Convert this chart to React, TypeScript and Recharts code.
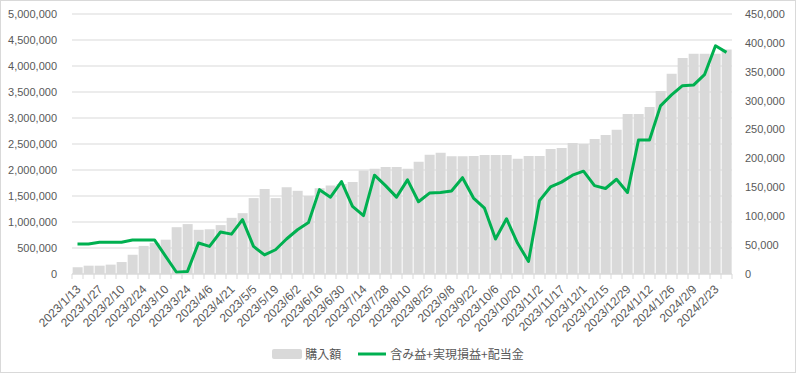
import {
  Bar,
  CartesianGrid,
  ComposedChart,
  Legend,
  Line,
  XAxis,
  YAxis,
} from "recharts";

const dates = [
  "2023/1/13", "2023/1/20", "2023/1/27", "2023/2/3", "2023/2/10", "2023/2/17",
  "2023/2/24", "2023/3/3", "2023/3/10", "2023/3/17", "2023/3/24", "2023/3/31",
  "2023/4/6", "2023/4/14", "2023/4/21", "2023/4/28", "2023/5/5", "2023/5/12",
  "2023/5/19", "2023/5/26", "2023/6/2", "2023/6/9", "2023/6/16", "2023/6/23",
  "2023/6/30", "2023/7/7", "2023/7/14", "2023/7/21", "2023/7/28", "2023/8/4",
  "2023/8/10", "2023/8/18", "2023/8/25", "2023/9/1", "2023/9/8", "2023/9/15",
  "2023/9/22", "2023/9/29", "2023/10/6", "2023/10/13", "2023/10/20", "2023/10/27",
  "2023/11/2", "2023/11/10", "2023/11/17", "2023/11/24", "2023/12/1", "2023/12/8",
  "2023/12/15", "2023/12/22", "2023/12/29", "2024/1/5", "2024/1/12", "2024/1/19",
  "2024/1/26", "2024/2/2", "2024/2/9", "2024/2/16", "2024/2/23", "2024/3/1",
];

// 購入額
const purchases = [
  130000, 160000, 160000, 180000, 230000, 370000, 540000, 600000, 660000, 900000,
  960000, 850000, 860000, 940000, 1080000, 1170000, 1460000, 1635000, 1460000, 1670000,
  1600000, 1500000, 1650000, 1700000, 1730000, 1770000, 1990000, 2025000, 2060000, 2060000,
  2025000, 2160000, 2295000, 2330000, 2265000, 2265000, 2270000, 2290000, 2290000, 2290000,
  2215000, 2270000, 2270000, 2405000, 2425000, 2520000, 2500000, 2595000, 2675000, 2775000,
  3075000, 3075000, 3210000, 3520000, 3850000, 4155000, 4235000, 4235000, 4235000, 4315000,
];

// 含み益+実現損益+配当金
const profits = [
  52000, 52000, 55000, 55000, 55000, 59000, 59000, 59000, 31000, 3000,
  4500, 53600, 47800, 72700, 69000, 94000, 47800, 33000, 42000, 60600,
  76600, 89000, 146000, 133000, 160000, 117000, 101000, 171000, 153000, 133000,
  163000, 125000, 140000, 141000, 143600, 166700, 131500, 114000, 60600, 95700,
  53600, 21800, 127000, 150600, 159000, 171000, 178000, 153000, 148000, 164000,
  141000, 232000, 232000, 291000, 310000, 326000, 327000, 345000, 395000, 383600,
];

const leftTicks = [0, 500000, 1000000, 1500000, 2000000, 2500000, 3000000, 3500000, 4000000, 4500000, 5000000];
const rightTicks = [0, 50000, 100000, 150000, 200000, 250000, 300000, 350000, 400000, 450000];

const data = dates.map((d, i) => ({ date: d, purchase: purchases[i], profit: profits[i] }));

const TEXT = "#595959";
const GRID = "#d9d9d9";
const FONT = "'Liberation Sans', Arial, sans-serif";

const fmt = (v: number) => v.toLocaleString("en-US");

function DateTick(props: any) {
  const { x, y, payload, index } = props;
  const off = payload?.offset ?? 5.5;
  const tx = x + 4;
  const ty = y + 16;
  return (
    <g>
      <line x1={x - off} x2={x - off} y1={y} y2={y + 5} stroke={GRID} />
      {index === dates.length - 1 && (
        <line x1={x + off} x2={x + off} y1={y} y2={y + 5} stroke={GRID} />
      )}
      {index % 2 === 0 && (
        <text
          x={tx}
          y={ty}
          transform={`rotate(-45, ${tx}, ${ty})`}
          textAnchor="end"
          fontSize={12}
          fontFamily={FONT}
          fill={TEXT}
        >
          {payload.value}
        </text>
      )}
    </g>
  );
}

function LegendContent() {
  return (
    <div
      style={{
        height: 25,
        display: "flex",
        justifyContent: "center",
        alignItems: "center",
        fontFamily: "'Noto Sans CJK JP', sans-serif",
        fontSize: 12,
        color: TEXT,
      }}
    >
      <svg width={30} height={10} style={{ marginRight: 3 }}>
        <rect x={0} y={0} width={30} height={10} rx={2} fill={GRID} />
      </svg>
      <span style={{ marginRight: 17 }}>購入額</span>
      <svg width={28} height={10} style={{ marginRight: 4 }}>
        <line x1={0} x2={28} y1={5} y2={5} stroke="#00b050" strokeWidth={3} />
      </svg>
      <span>含み益+実現損益+配当金</span>
    </div>
  );
}

export default function App() {
  return (
    <div style={{ position: "absolute", left: 0, top: 0, width: 796, height: 373, background: "#fff" }}>
      <ComposedChart
        width={796}
        height={373}
        data={data}
        margin={{ top: 14, right: 0, bottom: 7, left: 0 }}
        barCategoryGap="6%"
      >
        <CartesianGrid yAxisId="left" vertical={false} stroke={GRID} />
        <XAxis
          dataKey="date"
          interval={0}
          height={67}
          tickSize={0}
          tickMargin={0}
          tickLine={false}
          axisLine={{ stroke: GRID }}
          tick={<DateTick />}
        />
        <YAxis
          yAxisId="left"
          width={72}
          domain={[0, 5000000]}
          ticks={leftTicks}
          tickFormatter={fmt}
          axisLine={false}
          tickLine={false}
          tickSize={6}
          tickMargin={9}
          tick={{ fill: TEXT, fontSize: 11, fontFamily: FONT }}
        />
        <YAxis
          yAxisId="right"
          orientation="right"
          width={64}
          domain={[0, 450000]}
          ticks={rightTicks}
          tickFormatter={fmt}
          axisLine={false}
          tickLine={false}
          tickSize={6}
          tickMargin={7}
          tick={{ fill: TEXT, fontSize: 11, fontFamily: FONT, textAnchor: "start" }}
        />
        <Legend verticalAlign="bottom" content={<LegendContent />} />
        <Bar yAxisId="left" dataKey="purchase" name="購入額" fill={GRID} isAnimationActive={false} />
        <Line
          yAxisId="right"
          dataKey="profit"
          name="含み益+実現損益+配当金"
          type="linear"
          stroke="#00b050"
          strokeWidth={3}
          dot={false}
          activeDot={false}
          strokeLinejoin="round"
          isAnimationActive={false}
        />
      </ComposedChart>
      <div
        style={{
          position: "absolute",
          left: 0,
          top: 0,
          width: 796,
          height: 373,
          boxSizing: "border-box",
          border: `1px solid ${GRID}`,
          pointerEvents: "none",
        }}
      />
    </div>
  );
}
